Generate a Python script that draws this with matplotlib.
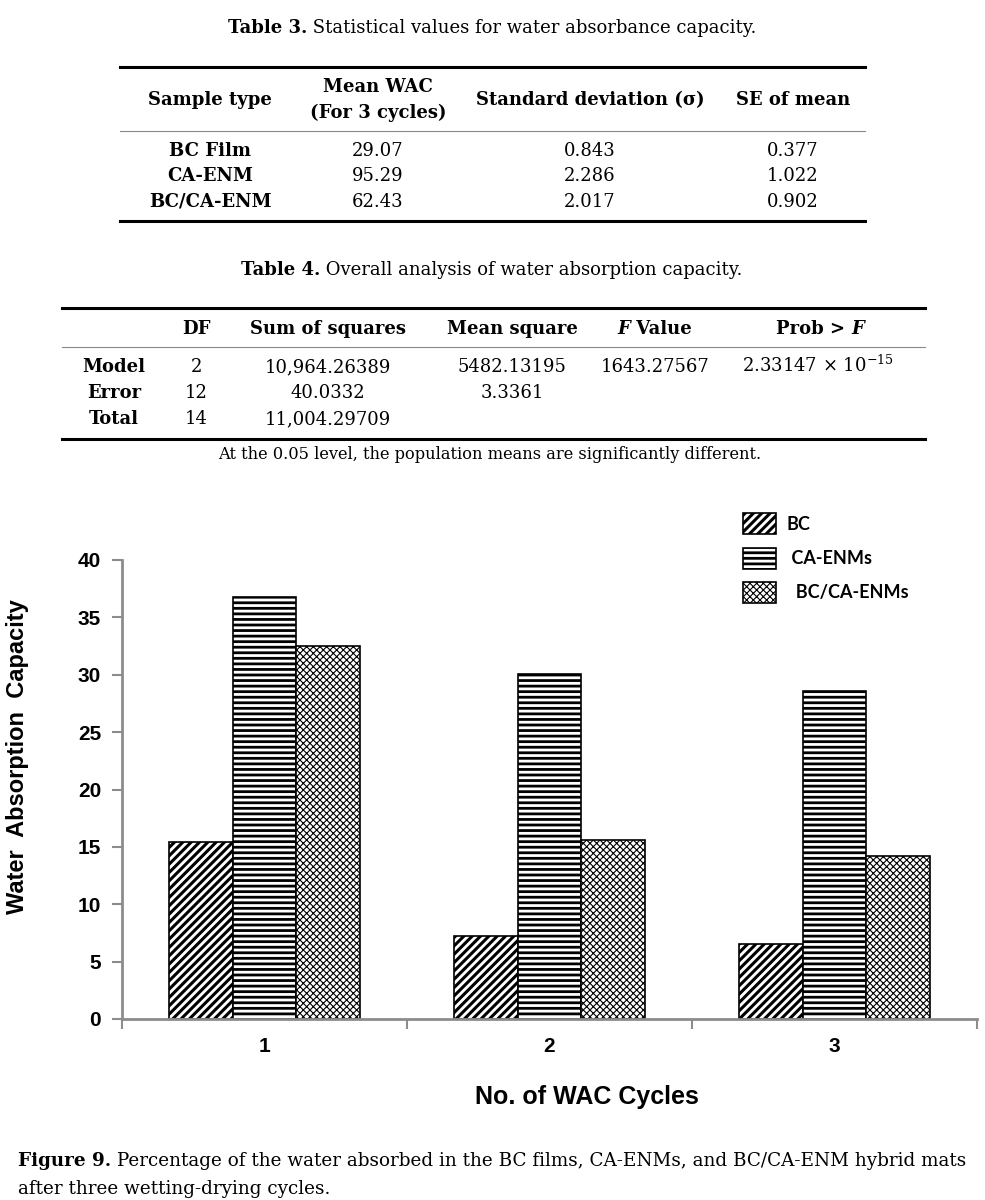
import numpy as np
import matplotlib
matplotlib.use('Agg')
import matplotlib.pyplot as plt
from matplotlib.lines import Line2D

# --- data ---
cycles = ['1', '2', '3']
bc = [15.4, 7.2, 6.5]
ca_enm = [36.8, 30.1, 28.6]
bc_ca_enm = [32.5, 15.6, 14.2]
series_names = ['BC', ' CA-ENMs', '  BC/CA-ENMs']
yticks = [0, 5, 10, 15, 20, 25, 30, 35, 40]

t3_samples = ['BC Film', 'CA-ENM', 'BC/CA-ENM']
t3_mean = ['29.07', '95.29', '62.43']
t3_sd = ['0.843', '2.286', '2.017']
t3_se = ['0.377', '1.022', '0.902']

t4_source = ['Model', 'Error', 'Total']
t4_df = ['2', '12', '14']
t4_ss = ['10,964.26389', '40.0332', '11,004.29709']
t4_ms = ['5482.13195', '3.3361', '']
t4_f = ['1643.27567', '', '']
t4_p = [r'2.33147 $\times$ 10$^{-15}$', '', '']

serif = 'DejaVu Serif'
plt.rcParams['mathtext.fontset'] = 'custom'
plt.rcParams['mathtext.rm'] = serif
plt.rcParams['mathtext.it'] = serif + ':italic'
plt.rcParams['mathtext.bf'] = serif + ':bold'

W, H = 985, 1200
fig = plt.figure(figsize=(W/100, H/100), dpi=100)
renderer = fig.canvas.get_renderer()
tsize = 13


def put(x, y, s, ha='center', weight='normal', style='normal', size=tsize):
    return fig.text(x/W, 1-y/H, s, ha=ha, va='baseline', fontsize=size,
                    family=serif, weight=weight, style=style)


def rich(x, y, parts, ha='center', size=tsize):
    # parts: (text, weight, style) drawn one after another on one baseline
    objs = [put(0, y, s, ha='left', weight=w, style=st, size=size) for s, w, st in parts]
    widths = [o.get_window_extent(renderer).width for o in objs]
    start = x - sum(widths)/2 if ha == 'center' else x
    for o, w in zip(objs, widths):
        o.set_x(start/W)
        start += w


def rule(x0, x1, y, lw, color='black'):
    fig.add_artist(Line2D([x0/W, x1/W], [1-y/H, 1-y/H], lw=lw, color=color,
                          transform=fig.transFigure))


# ---- Table 3 ----
rich(492, 33, [('Table 3.', 'bold', 'normal'),
               (' Statistical values for water absorbance capacity.', 'normal', 'normal')])
rule(120, 865, 67, 2.2)
rule(120, 865, 131, 0.8, '#888888')
rule(120, 865, 221, 2.2)
t3x = [210, 378, 590, 793]
put(t3x[0], 105, 'Sample type', weight='bold')
put(t3x[1], 92, 'Mean WAC', weight='bold')
put(t3x[1], 118, '(For 3 cycles)', weight='bold')
put(t3x[2], 105, 'Standard deviation (σ)', weight='bold')
put(t3x[3], 105, 'SE of mean', weight='bold')
for i, yy in enumerate([156, 181, 207]):
    put(t3x[0], yy, t3_samples[i], weight='bold')
    put(t3x[1], yy, t3_mean[i])
    put(t3x[2], yy, t3_sd[i])
    put(t3x[3], yy, t3_se[i])

# ---- Table 4 ----
rich(492, 275, [('Table 4.', 'bold', 'normal'),
                (' Overall analysis of water absorption capacity.', 'normal', 'normal')])
rule(62, 925, 308, 2.2)
rule(62, 925, 347, 0.8, '#888888')
rule(62, 925, 439, 2.2)
t4x = [114, 196, 328, 512, 655, 820]
put(t4x[1], 334, 'DF', weight='bold')
put(t4x[2], 334, 'Sum of squares', weight='bold')
put(t4x[3], 334, 'Mean square', weight='bold')
rich(t4x[4], 334, [('F', 'bold', 'italic'), (' Value', 'bold', 'normal')])
rich(t4x[5], 334, [('Prob > ', 'bold', 'normal'), ('F', 'bold', 'italic')])
for i, yy in enumerate([372, 398, 424]):
    put(t4x[0], yy, t4_source[i], weight='bold')
    put(t4x[1], yy, t4_df[i])
    put(t4x[2], yy, t4_ss[i])
    put(t4x[3], yy, t4_ms[i])
    put(t4x[4], yy, t4_f[i])
    put(t4x[5] - 2, yy, t4_p[i])
put(490, 459, 'At the 0.05 level, the population means are significantly different.', size=11.7)

# ---- bar chart ----
ax = fig.add_axes([122/W, 1-1019/H, 855/W, 459/H])
x = np.arange(1, len(cycles)+1)
bw = 0.223
hatches = ['////', '---', 'xxxxx']
hlws = [2.2, 2.0, 0.8]
gray = '#8c8c8c'
for k, vals in enumerate([bc, ca_enm, bc_ca_enm]):
    with plt.rc_context({'hatch.linewidth': hlws[k]}):
        bars = ax.bar(x + (k-1)*bw, vals, bw, color='white', edgecolor='black',
                      hatch=hatches[k], lw=1.2, label=series_names[k])
    for b in bars:
        if hasattr(b, 'set_hatch_linewidth'):
            b.set_hatch_linewidth(hlws[k])

ax.set_xlim(0.5, 3.5)
ax.set_ylim(0, 40)
ax.set_yticks(yticks)
ax.set_xticks([0.5, 1.5, 2.5, 3.5])
ax.set_xticklabels([])
ax.set_xticks(x, minor=True)
ax.set_xticklabels(cycles, minor=True)
for s in ['top', 'right']:
    ax.spines[s].set_visible(False)
for s in ['left', 'bottom']:
    ax.spines[s].set_color(gray)
    ax.spines[s].set_linewidth(2)
ax.tick_params(axis='y', which='major', length=7, width=1.5, color=gray, pad=8)
ax.tick_params(axis='x', which='major', length=7, width=1.5, color=gray)
ax.tick_params(axis='x', which='minor', length=0, pad=13)
for lab in ax.get_yticklabels() + ax.get_xticklabels(minor=True):
    lab.set_family('Liberation Sans')
    lab.set_weight('bold')
    lab.set_fontsize(15)

ax.set_ylabel('Water  Absorption  Capacity', family='Liberation Sans', weight='bold',
              fontsize=17, va='center')
ax.yaxis.set_label_coords((18-122)/855, (1019-757)/459)
ax.set_xlabel('No. of WAC Cycles', family='Liberation Sans', weight='bold',
              fontsize=18, va='center')
ax.xaxis.set_label_coords((587-122)/855, (1019-1097)/459)

leg = ax.legend(loc='upper left', bbox_to_anchor=(727/W, 1-497/H),
                bbox_transform=fig.transFigure, frameon=False,
                prop={'family': 'Lato', 'weight': 'bold', 'size': 13},
                handlelength=1.8, handleheight=1.4, labelspacing=0.75, handletextpad=0.6)
for k, h in enumerate(leg.legend_handles):
    if hasattr(h, 'set_hatch_linewidth'):
        h.set_hatch_linewidth(hlws[k])

# ---- caption ----
rich(18, 1166, [('Figure 9.', 'bold', 'normal'),
                (' Percentage of the water absorbed in the BC films, CA-ENMs, and BC/CA-ENM hybrid mats',
                 'normal', 'normal')], ha='left', size=13.2)
put(18, 1194, 'after three wetting-drying cycles.', ha='left', size=13.2)

fig.savefig('out.png', dpi=100)
